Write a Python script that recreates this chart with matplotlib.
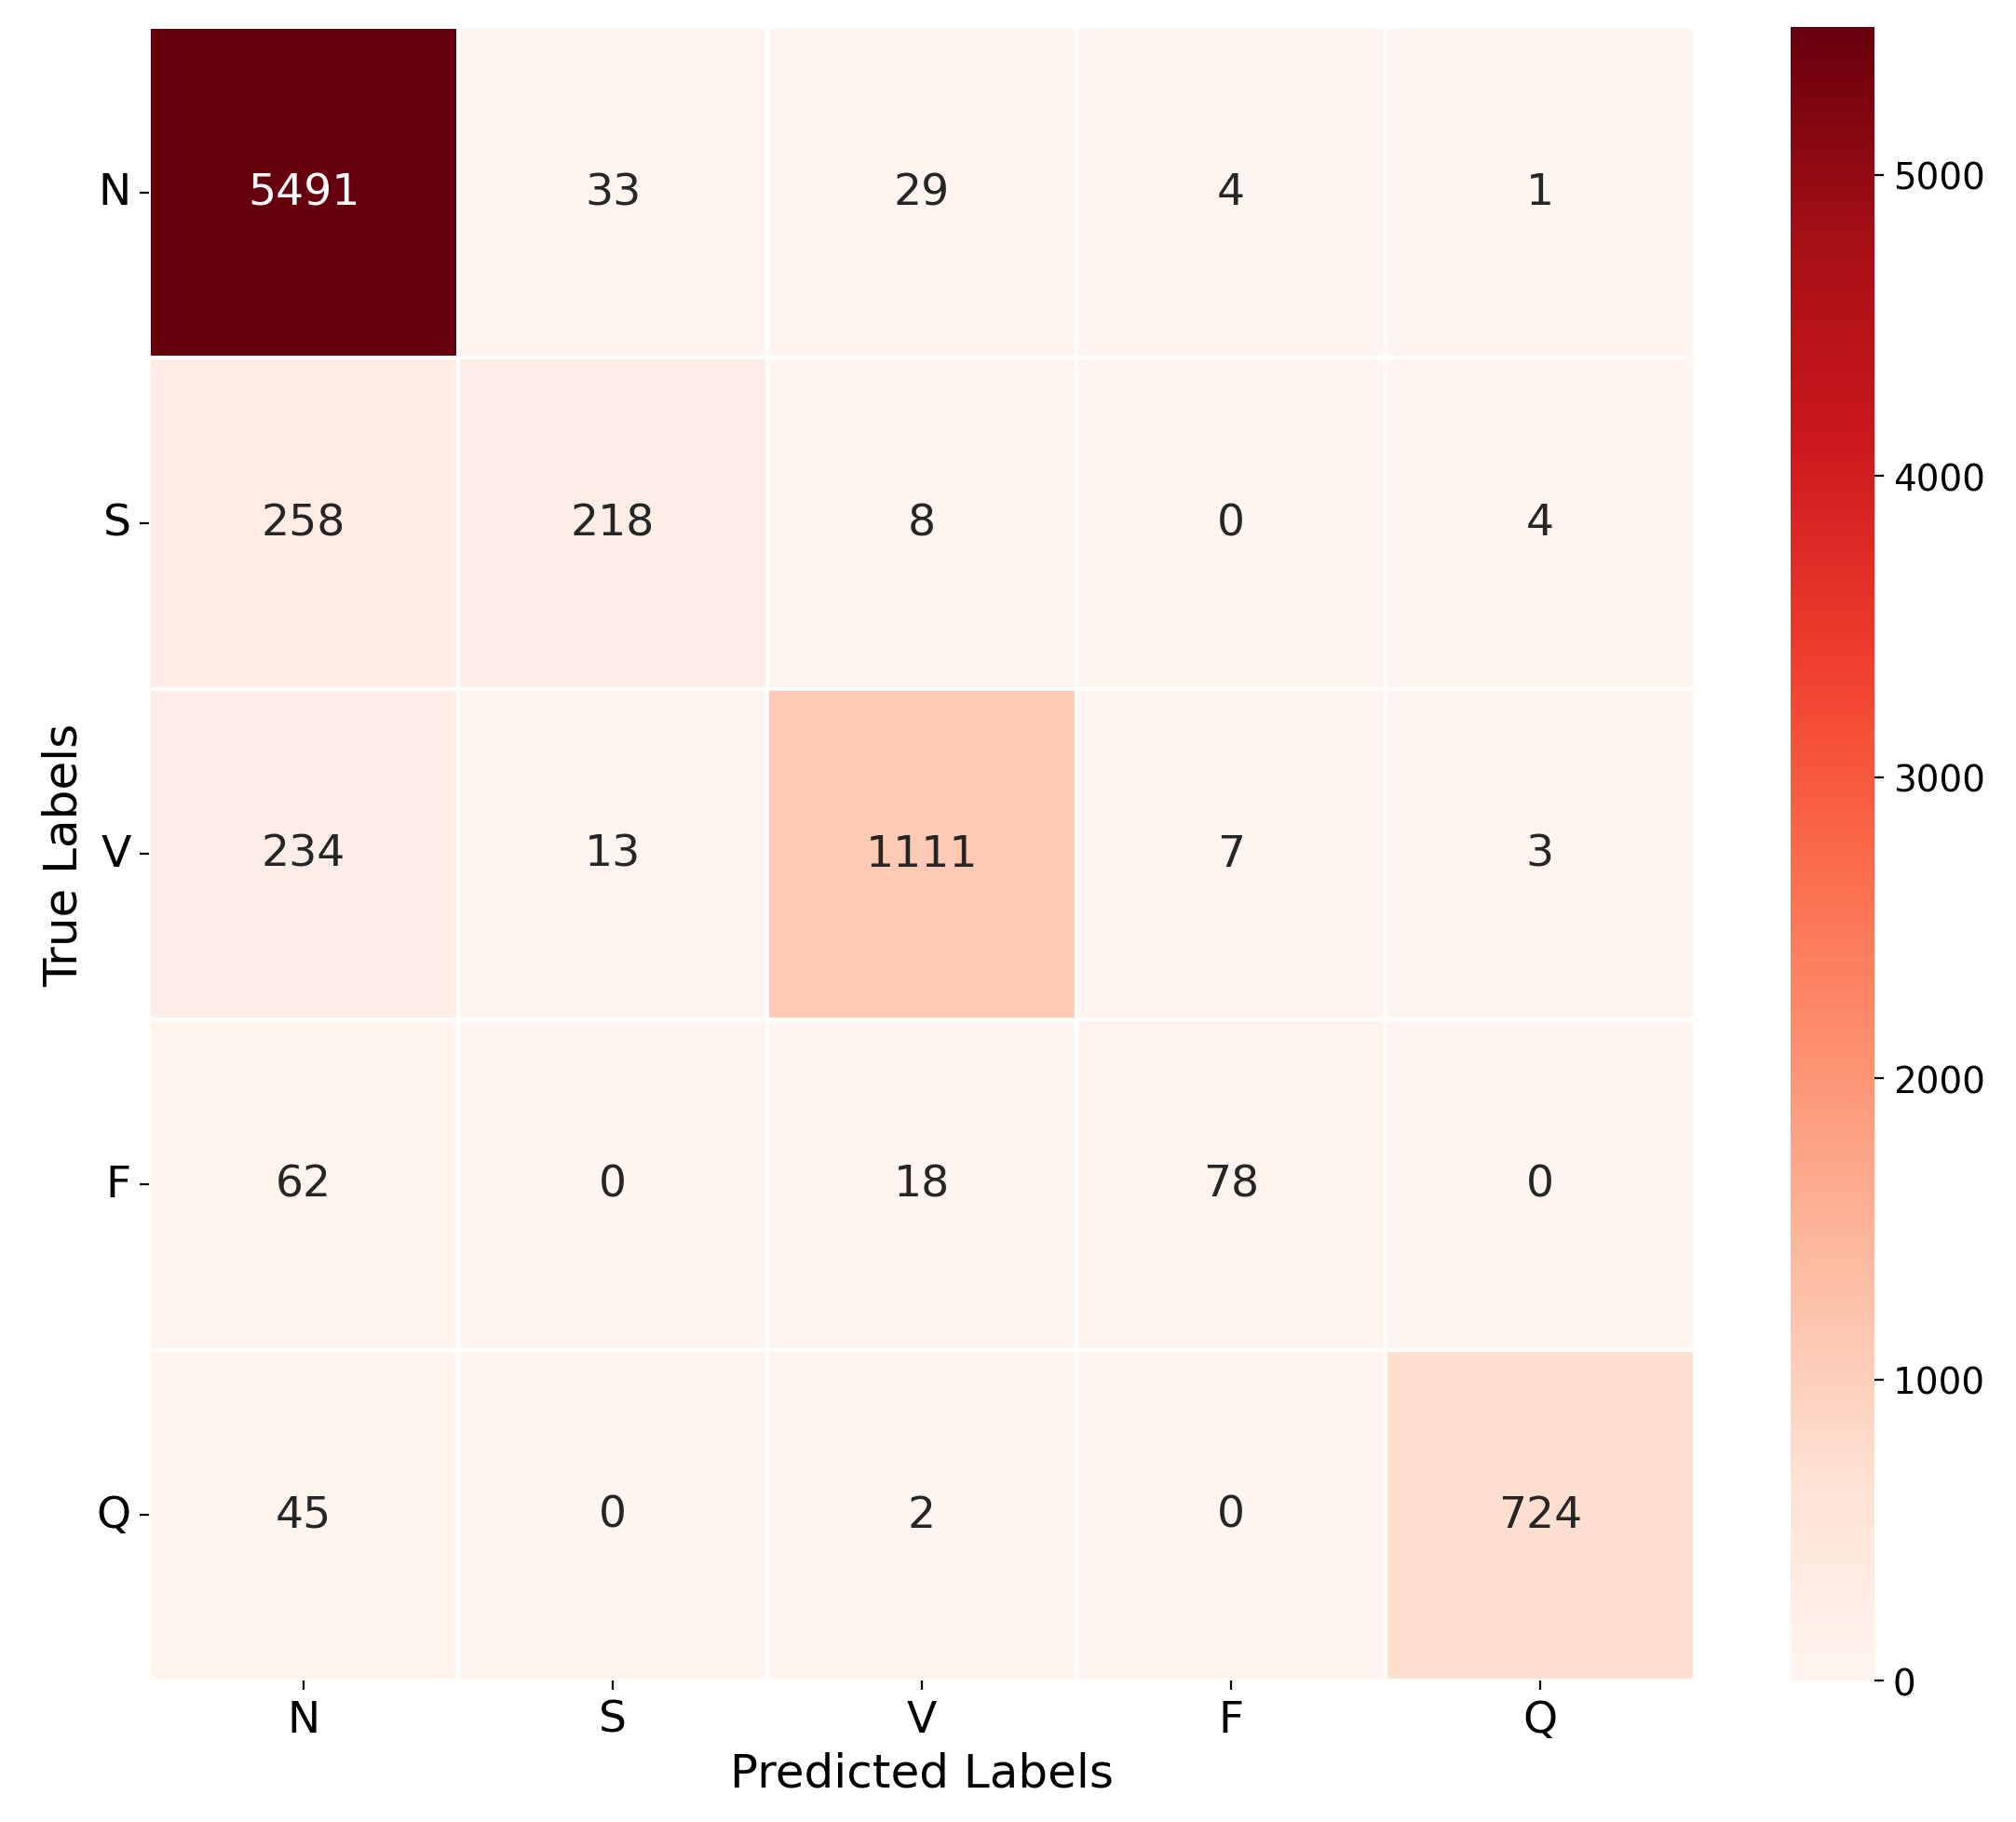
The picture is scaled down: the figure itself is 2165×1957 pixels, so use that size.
import matplotlib
matplotlib.use("Agg")
import matplotlib.pyplot as plt
import seaborn as sns
import numpy as np

labels = ["N", "S", "V", "F", "Q"]
row_N = [5491, 33, 29, 4, 1]
row_S = [258, 218, 8, 0, 4]
row_V = [234, 13, 1111, 7, 3]
row_F = [62, 0, 18, 78, 0]
row_Q = [45, 0, 2, 0, 724]
cm = np.array([row_N, row_S, row_V, row_F, row_Q])

fig = plt.figure(figsize=(10.825, 9.79), dpi=200)
ax = fig.add_axes([0.074, 0.0776, 0.7666, 0.907])
cax = fig.add_axes([0.888, 0.0776, 0.042, 0.907])
sns.heatmap(cm, annot=True, fmt="d", cmap="Reds", linewidths=0.8, linecolor="white",
            xticklabels=labels, yticklabels=labels, ax=ax, cbar_ax=cax,
            annot_kws={"size": 17})
ax.set_xlabel("Predicted Labels", fontsize=18)
ax.set_ylabel("True Labels", fontsize=18)
ax.tick_params(labelsize=17)
plt.setp(ax.get_yticklabels(), rotation=0)
cax.tick_params(labelsize=14)
fig.savefig("out.png", dpi=200)
